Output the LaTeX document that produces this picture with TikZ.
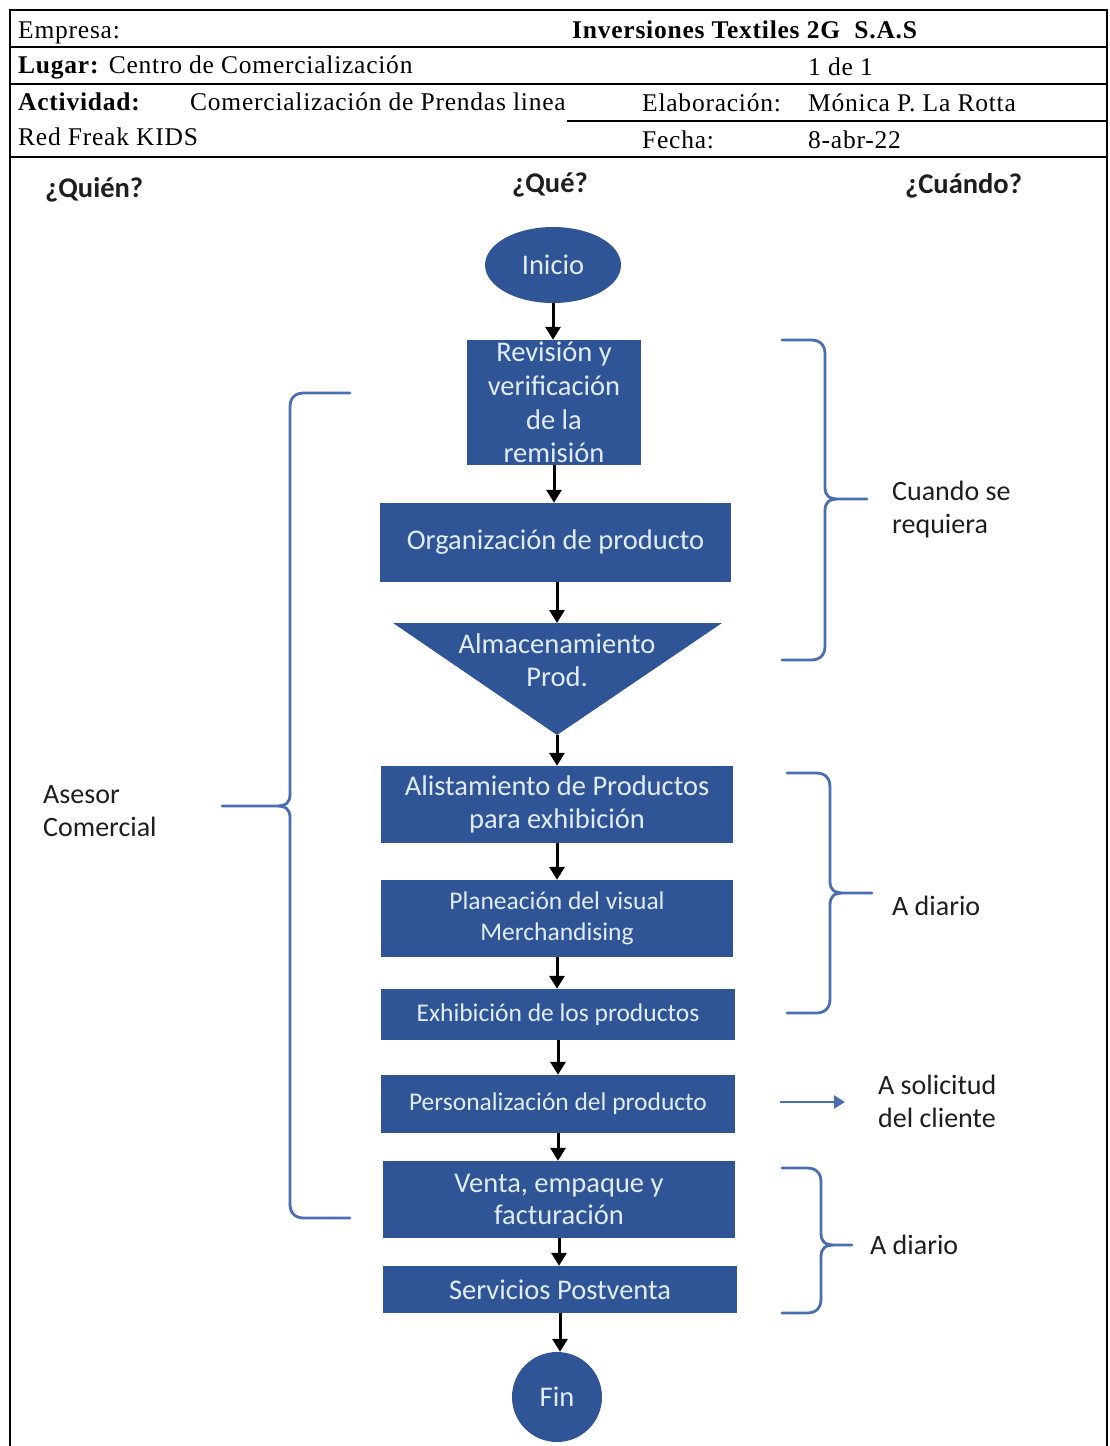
\documentclass[tikz,border=0pt]{standalone}
\usepackage{fontspec}
\setmainfont{Liberation Serif}[LetterSpace=3]
\newfontfamily\calfont{Carlito}
\usetikzlibrary{arrows.meta,shapes.geometric}

\definecolor{boxblue}{RGB}{47,85,151}
\definecolor{boxtext}{RGB}{226,236,248}
\definecolor{braceblue}{RGB}{74,110,180}
\definecolor{labtext}{RGB}{30,30,30}

% curly brace opening to the left, tip pointing right
\newcommand{\drawRightBrace}[6]{%
  \draw[bracestyle] (#1,#3) -- ({#2-14},#3) .. controls ({#2-5},#3) and (#2,{#3+5}) .. (#2,{#3+14})
    -- (#2,{#4-12}) .. controls (#2,{#4-3}) and ({#2+4},#4) .. ({#2+14},#4) -- (#6,#4)
    ({#2+14},#4) .. controls ({#2+4},#4) and (#2,{#4+3}) .. (#2,{#4+12})
    -- (#2,{#5-14}) .. controls (#2,{#5-5}) and ({#2-5},#5) .. ({#2-14},#5) -- (#1,#5);}
% curly brace opening to the right, tip pointing left
\newcommand{\drawLeftBrace}[6]{%
  \draw[bracestyle] (#1,#3) -- ({#2+14},#3) .. controls ({#2+5},#3) and (#2,{#3+5}) .. (#2,{#3+14})
    -- (#2,{#4-12}) .. controls (#2,{#4-3}) and ({#2-4},#4) .. ({#2-14},#4) -- (#6,#4)
    ({#2-14},#4) .. controls ({#2-4},#4) and (#2,{#4+3}) .. (#2,{#4+12})
    -- (#2,{#5-14}) .. controls (#2,{#5-5}) and ({#2+5},#5) .. ({#2+14},#5) -- (#1,#5);}

\begin{document}
\begin{tikzpicture}[x=1pt,y=-1pt,
  hdr/.style={inner sep=0pt, anchor=base west, text=black, font=\fontsize{25.5}{28}\selectfont},
  proc/.style={rectangle, fill=boxblue, inner sep=0pt},
  lbl/.style={inner sep=0pt, text=boxtext, align=center},
  big/.style={font=\calfont\fontsize{28.5}{32.5}\selectfont},
  small/.style={font=\calfont\fontsize{25.5}{31}\selectfont},
  side/.style={inner sep=0pt, anchor=west, align=left, text=labtext, font=\calfont\fontsize{28}{33}\selectfont},
  ask/.style={inner sep=0pt, text=labtext, font=\calfont\bfseries\fontsize{28.5}{30}\selectfont},
  arr/.style={line width=3pt, draw=black, -{Triangle[length=13pt,width=15pt]}},
  bracestyle/.style={draw=braceblue, line width=2.8pt, line cap=round},
  bluearr/.style={draw=braceblue, line width=2.8pt, -{Triangle[length=11pt,width=13pt]}}]

\useasboundingbox (0,0) rectangle (1109,1446);
\clip (0,0) rectangle (1109,1446);
\fill[white] (0,0) rectangle (1109,1446);

% ---- frame and header table ----
\draw[line width=2pt] (10,1460) -- (10,10) -- (1107,10) -- (1107,1460);
\draw[line width=2.5pt] (10,47) -- (1107,47);
\draw[line width=2.5pt] (10,84) -- (1107,84);
\draw[line width=2.5pt] (567,121) -- (1107,121);
\draw[line width=1.8pt] (10,157) -- (1107,157);

\node[hdr] (emp) at (18,38) {Empresa:};
\node[hdr] (inv) at (572,38) {\textbf{Inversiones Textiles 2G\ \ S.A.S}};
\node[hdr] (lug) at (18,73) {\textbf{Lugar:} Centro de Comercialización};
\node[hdr] (pag) at (808,75) {1 de 1};
\node[hdr] (act) at (18,110) {\textbf{Actividad:}};
\node[hdr] (actv) at (190,110) {Comercialización de Prendas linea};
\node[hdr] (elab) at (642,111) {Elaboración:};
\node[hdr] (elabv) at (808,111) {Mónica P. La Rotta};
\node[hdr] (red) at (18,145) {Red Freak KIDS};
\node[hdr] (fec) at (642,148) {Fecha:};
\node[hdr] (fecv) at (808,148) {8-abr-22};

% ---- column titles ----
\node[ask, anchor=base west] (quien) at (45,197) {¿Quién?};
\node[ask, anchor=base] (que) at (550,192) {¿Qué?};
\node[ask, anchor=base west] (cuando) at (905,193) {¿Cuándo?};

% ---- process flow ----
\node[ellipse, fill=boxblue, minimum width=136pt, minimum height=76pt, inner sep=0pt,
      text=boxtext, big] (ini) at (553,265) {Inicio};

\node[proc, minimum width=174pt, minimum height=125pt] (rev) at (554,402.5) {};
\node[lbl, font=\calfont\fontsize{28.5}{33.7}\selectfont] (revt) at (rev) {Revisión y\\verificación\\de la\\remisión};

\node[proc, minimum width=351pt, minimum height=79pt, lbl, big] (org) at (555.5,542.5) {Organización de producto};

\coordinate (almL) at (393,623);
\coordinate (almR) at (722,623);
\coordinate (almTop) at (557,623);
\coordinate (almTip) at (557,735);
\fill[boxblue] (almL) -- (almR) -- (almTip) -- cycle;
\node[lbl, big] (alm) at (557,660) {Almacenamiento\\Prod.};

\node[proc, minimum width=352pt, minimum height=77pt, lbl, big] (alist) at (557,804.5) {Alistamiento de Productos\\para exhibición};
\node[proc, minimum width=352pt, minimum height=77pt, lbl, small] (plan) at (557,918.5) {Planeación del visual\\Merchandising};
\node[proc, minimum width=354pt, minimum height=51pt, lbl, small] (exhib) at (558,1014.5) {Exhibición de los productos};
\node[proc, minimum width=354pt, minimum height=58pt, lbl, small] (pers) at (558,1104) {Personalización del producto};
\node[proc, minimum width=352pt, minimum height=77pt, lbl, big] (venta) at (559,1199.5) {Venta, empaque y\\facturación};
\node[proc, minimum width=354pt, minimum height=47pt, lbl, big] (serv) at (560,1289.5) {Servicios Postventa};
\node[circle, fill=boxblue, minimum size=90pt, inner sep=0pt, text=boxtext, big] (fin) at (557,1397) {Fin};

% connectors
\draw[arr] (ini.south) -- (ini.south |- rev.north);
\draw[arr] (rev.south) -- (rev.south |- org.north);
\draw[arr] (org.south -| almTop) -- (almTop);
\draw[arr] (almTip) -- (almTip |- alist.north);
\draw[arr] (alist.south) -- (alist.south |- plan.north);
\draw[arr] (plan.south) -- (plan.south |- exhib.north);
\draw[arr] (exhib.south) -- (exhib.south |- pers.north);
\draw[arr] (pers.south) -- (pers.south |- venta.north);
\draw[arr] (venta.south) -- (venta.south |- serv.north);
\draw[arr] (serv.south) -- (serv.south |- fin.north);

% ---- who ----
\drawLeftBrace{350}{290}{393}{806}{1218}{222}
\node[side] (asesor) at (43,811) {Asesor\\Comercial};

% ---- when ----
\drawRightBrace{782}{825}{340}{499}{660}{867}
\node[side] (cuandose) at (892,510) {Cuando se\\requiera};

\drawRightBrace{787}{830}{773}{893}{1013}{872}
\node[side] (diario1) at (892,906) {A diario};

\coordinate (solS) at (780,1102);
\coordinate (solE) at (845,1102);
\draw[bluearr] (solS) -- (solE);
\node[side] (solic) at (878,1101) {A solicitud\\del cliente};

\drawRightBrace{782}{821}{1168}{1245}{1313}{852}
\node[side] (diario2) at (870,1245) {A diario};

\end{tikzpicture}
\end{document}
